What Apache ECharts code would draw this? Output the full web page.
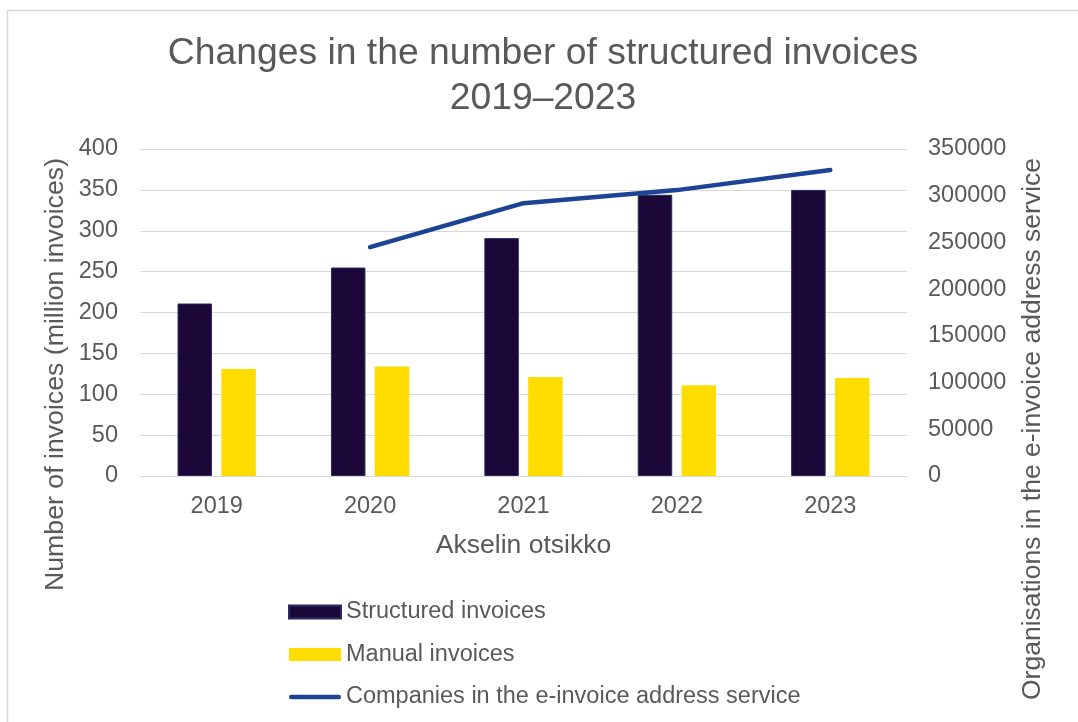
<!DOCTYPE html>
<html>
<head>
<meta charset="utf-8">
<script src="https://cdn.jsdelivr.net/npm/echarts@6/dist/echarts.min.js"></script>
<style>
  html, body { margin: 0; padding: 0; background: #fff; }
  #chart { width: 1078px; height: 722px; }
</style>
</head>
<body>
<div id="chart"></div>
<script>
// Yearly invoice volumes (million invoices) and e-invoice address service organisations
const years = ['2019', '2020', '2021', '2022', '2023'];
const structuredInvoices = [211, 255, 291, 344, 350];
const manualInvoices = [131, 134, 121, 111, 120];
const companiesInService = [null, 245000, 292000, 306000, 327500];

const FONT = '"Liberation Sans", Arial, sans-serif';
const TEXT = '#595959';
const LINE_BLUE = '#1d4494';

const chart = echarts.init(document.getElementById('chart'), null, { renderer: 'canvas' });

chart.setOption({
  backgroundColor: '#ffffff',
  animation: false,
  textStyle: { fontFamily: FONT, color: TEXT },
  title: {
    text: 'Changes in the number of structured invoices\n2019–2023',
    left: 538,
    top: 26,
    textAlign: 'center',
    textStyle: { fontFamily: FONT, fontSize: 37.3, fontWeight: 'normal', color: TEXT, lineHeight: 45 }
  },
  grid: { left: 140, right: 171, top: 149, bottom: 246, containLabel: false },
  legend: {
    orient: 'vertical',
    left: 288,
    top: 600,
    padding: 0,
    itemWidth: 52,
    itemHeight: 13,
    itemGap: 18.5,
    textStyle: { fontFamily: FONT, fontSize: 23.5, color: TEXT },
    data: [
      { name: 'Structured invoices', icon: 'rect' },
      { name: 'Manual invoices', icon: 'rect' },
      {
        name: 'Companies in the e-invoice address service',
        icon: 'path://M2.25,0 H49.75 A2.25,2.25 0 0 1 49.75,4.5 H2.25 A2.25,2.25 0 0 1 2.25,0 Z',
        itemStyle: { color: LINE_BLUE, borderWidth: 0 }
      }
    ]
  },
  xAxis: {
    type: 'category',
    data: years,
    name: 'Akselin otsikko',
    nameLocation: 'middle',
    nameGap: 56,
    nameTextStyle: { fontFamily: FONT, fontSize: 26.5, color: TEXT },
    axisLine: { show: true, lineStyle: { color: '#d9d9d9', width: 1 } },
    axisTick: { show: false },
    axisLabel: { fontFamily: FONT, fontSize: 23.5, color: TEXT, margin: 19 }
  },
  yAxis: [
    {
      type: 'value',
      min: 0,
      max: 400,
      interval: 50,
      axisLine: { show: false },
      axisTick: { show: false },
      splitLine: { lineStyle: { color: '#d9d9d9', width: 1 } },
      axisLabel: { fontFamily: FONT, fontSize: 23.5, color: TEXT, margin: 22 }
    },
    {
      type: 'value',
      min: 0,
      max: 350000,
      interval: 50000,
      position: 'right',
      axisLine: { show: false },
      axisTick: { show: false },
      splitLine: { show: false },
      axisLabel: {
        fontFamily: FONT, fontSize: 23.5, color: TEXT, margin: 21,
        formatter: (v) => String(v)
      }
    }
  ],
  graphic: [
    {
      type: 'rect',
      silent: true,
      shape: { x: 7.5, y: 10.5, width: 1100, height: 740 },
      style: { fill: 'none', stroke: '#d9d9d9', lineWidth: 1.5 }
    },
    {
      type: 'text',
      x: 56,
      y: 374.5,
      rotation: Math.PI / 2,
      style: {
        text: 'Number of invoices (million invoices)',
        font: '26.7px ' + FONT,
        fill: TEXT,
        align: 'center',
        verticalAlign: 'middle'
      }
    },
    {
      type: 'text',
      x: 1033,
      y: 429,
      rotation: Math.PI / 2,
      style: {
        text: 'Organisations in the e-invoice address service',
        font: '26.5px ' + FONT,
        fill: TEXT,
        align: 'center',
        verticalAlign: 'middle'
      }
    }
  ],
  series: [
    {
      name: 'Structured invoices',
      type: 'bar',
      yAxisIndex: 0,
      data: structuredInvoices,
      barWidth: 34.5,
      barGap: '27%',
      itemStyle: { color: '#1b0838', borderColor: '#2c2a5e', borderWidth: 1 }
    },
    {
      name: 'Manual invoices',
      type: 'bar',
      yAxisIndex: 0,
      data: manualInvoices,
      barWidth: 34.5,
      barGap: '27%',
      itemStyle: { color: '#ffdd00' }
    },
    {
      name: 'Companies in the e-invoice address service',
      type: 'line',
      yAxisIndex: 1,
      data: companiesInService,
      symbol: 'none',
      connectNulls: false,
      lineStyle: { color: LINE_BLUE, width: 4.5, cap: 'round', join: 'round' },
      itemStyle: { color: LINE_BLUE }
    }
  ]
});
</script>
</body>
</html>
